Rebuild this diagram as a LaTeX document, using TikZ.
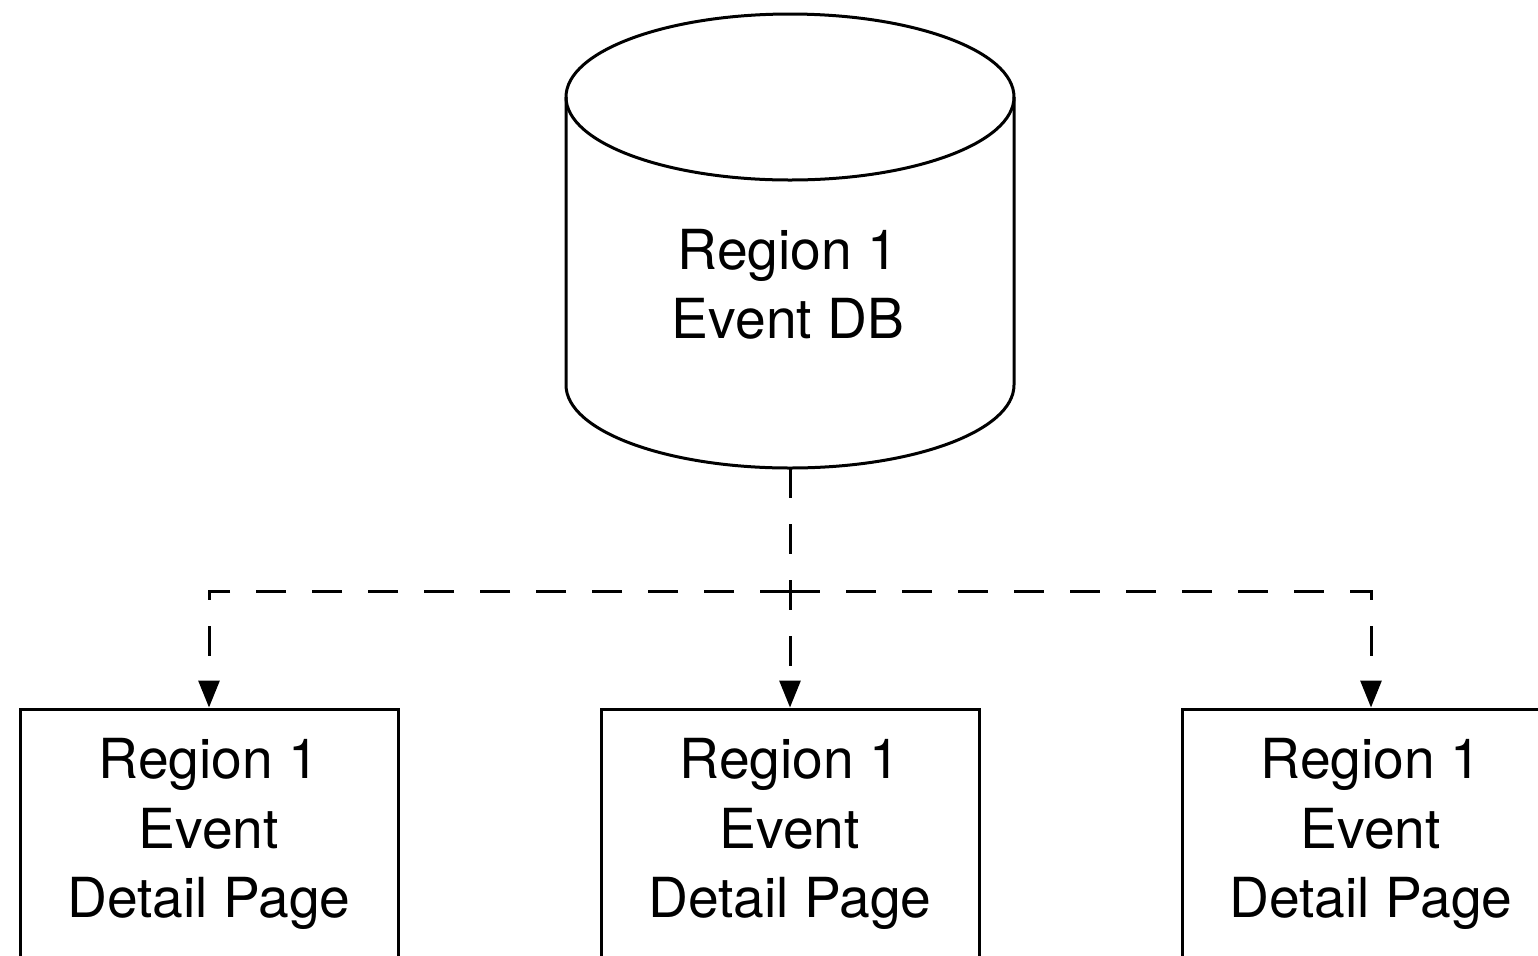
\documentclass[tikz,border=0pt]{standalone}
\usepackage{fontspec}
\setmainfont{TeX Gyre Heros}
\usetikzlibrary{arrows.meta}

\tikzset{
  label font/.style={font=\fontsize{27.6}{34.6}\selectfont},
  dbtext/.style={label font, align=center, inner sep=0pt},
  pagebox/.style={draw, line width=1.5pt, label font, align=center,
    minimum width=189pt, minimum height=125pt},
  link/.style={line width=1.5pt, dash pattern=on 15pt off 13pt,
    -{Triangle[width=10.5pt,length=13.5pt]}},
}

\begin{document}
\begin{tikzpicture}[x=0.5pt,y=-0.5pt]
    \useasboundingbox (0,0) rectangle (1538,955);
    % event database
    \draw[line width=1.5pt] (566,97) -- (566,385) arc (180:0:224 and 83) -- (1014,97);
    \draw[line width=1.5pt] (790,97) ellipse (224 and 83);
    \node[dbtext] (db) at (788,284) {Region 1\\Event DB};
    \coordinate (db bottom) at (790,468);
    \coordinate (split) at (790,591);
    % detail pages
    \node[pagebox] (page1) at (209,834) {Region 1\\Event\\Detail Page};
    \node[pagebox] (page2) at (790,834) {Region 1\\Event\\Detail Page};
    \node[pagebox] (page3) at (1371,834) {Region 1\\Event\\Detail Page};
    % links
    \draw[link] (db bottom) -- (page2.north);
    \draw[link] (split) -| (page1.north);
    \draw[link] (split) -| (page3.north);
\end{tikzpicture}
\end{document}
